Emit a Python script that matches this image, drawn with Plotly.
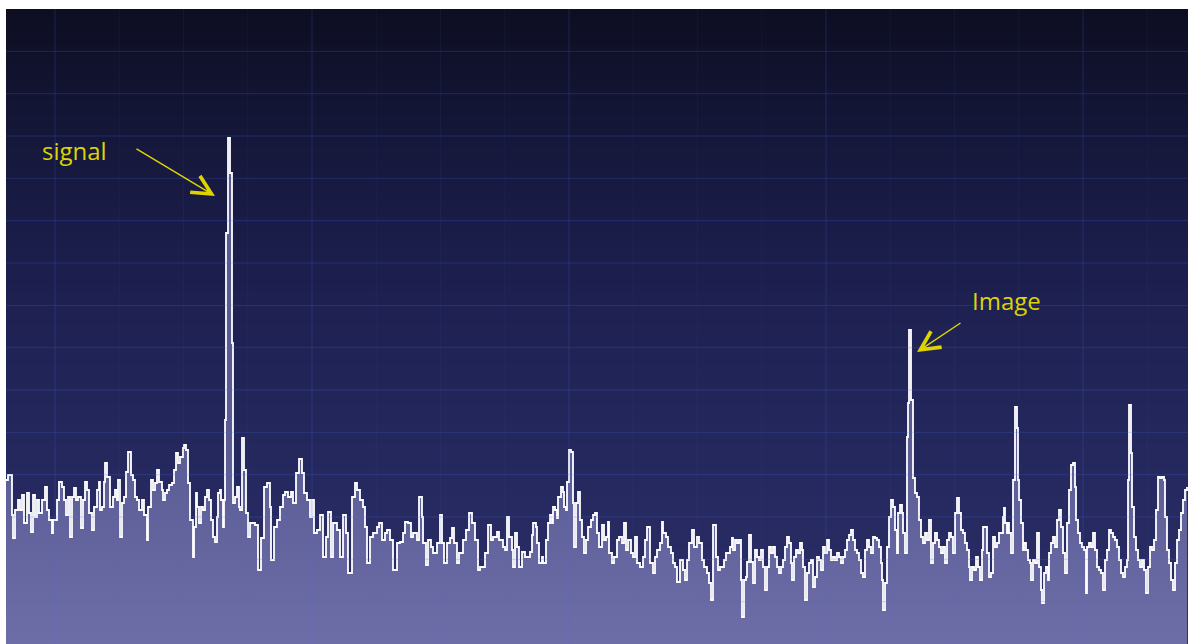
import numpy as np
import plotly.graph_objects as go

# Spectrum sweep: frequency offset (kHz) and level (dBuV)
freq_khz = [
    0, 2, 6, 7, 9, 12, 14, 16, 18, 21, 23, 25, 27, 29, 31, 33, 36, 39, 41, 43,
    46, 47, 51, 53, 56, 58, 60, 62, 64, 66, 68, 70, 72, 75, 77, 79, 81, 83, 86, 88,
    91, 93, 94, 96, 98, 99, 101, 104, 107, 109, 111, 112, 114, 116, 118, 120, 122, 125, 127, 129,
    131, 133, 136, 138, 141, 142, 145, 147, 149, 151, 153, 156, 157, 159, 161, 163, 166, 168, 170, 172,
    174, 177, 178, 180, 182, 184, 187, 188, 190, 191, 193, 195, 197, 199, 201, 203, 205, 207, 209, 211,
    212, 214, 215, 217, 218, 219, 220, 222, 224, 226, 227, 229, 231, 233, 234, 236, 238, 240, 242, 244,
    246, 249, 252, 255, 258, 261, 264, 265, 268, 271, 274, 277, 279, 282, 285, 287, 290, 293, 296, 298,
    301, 304, 306, 308, 311, 314, 317, 320, 322, 325, 327, 331, 334, 337, 340, 342, 346, 349, 351, 354,
    357, 359, 361, 364, 367, 371, 373, 376, 379, 381, 384, 387, 391, 394, 397, 399, 402, 405, 407, 411,
    413, 416, 417, 420, 422, 425, 427, 431, 434, 436, 438, 441, 444, 446, 448, 451, 453, 457, 460, 463,
    466, 469, 472, 474, 479, 482, 485, 487, 491, 493, 497, 499, 501, 503, 506, 507, 509, 511, 513, 516,
    519, 522, 524, 526, 527, 530, 531, 533, 536, 537, 540, 542, 544, 546, 547, 549, 551, 552, 555, 557,
    558, 560, 561, 563, 565, 567, 568, 570, 572, 574, 576, 578, 580, 582, 585, 587, 589, 591, 593, 596,
    598, 600, 602, 603, 606, 608, 611, 613, 616, 618, 620, 622, 625, 627, 629, 631, 634, 637, 639, 641,
    644, 647, 649, 651, 654, 656, 657, 660, 662, 665, 667, 669, 671, 674, 677, 679, 681, 683, 686, 688,
    691, 693, 696, 698, 701, 703, 705, 707, 710, 712, 714, 718, 720, 722, 724, 726, 727, 729, 731, 733,
    735, 736, 738, 740, 741, 743, 745, 747, 749, 751, 753, 755, 757, 759, 761, 763, 765, 767, 769, 771,
    773, 775, 777, 779, 781, 783, 785, 786, 788, 790, 792, 794, 796, 797, 799, 801, 803, 805, 807, 809,
    811, 813, 815, 817, 819, 821, 823, 825, 827, 829, 831, 833, 835, 837, 839, 841, 843, 845, 847, 849,
    851, 853, 855, 857, 859, 861, 863, 865, 867, 869, 871, 873, 875, 876, 877, 879, 881, 883, 885, 887,
    889, 891, 892, 894, 896, 897, 899, 901, 902, 903, 905, 907, 909, 911, 913, 915, 917, 919, 921, 923,
    925, 927, 929, 931, 933, 935, 937, 939, 941, 943, 945, 947, 949, 951, 953, 955, 957, 959, 961, 963,
    964, 966, 968, 970, 972, 974, 976, 977, 979, 981, 983, 985, 987, 989, 991, 993, 995, 997, 998, 999,
    1001, 1002, 1003, 1005, 1007, 1009, 1011, 1012, 1013, 1015, 1017, 1018, 1020, 1022, 1024, 1025, 1027, 1029, 1031, 1033,
    1035, 1036, 1038, 1040, 1042, 1043, 1045, 1047, 1049, 1051, 1053, 1055, 1057, 1059, 1061, 1063, 1065, 1067, 1069, 1070,
    1072, 1074, 1076, 1078, 1080, 1081, 1083, 1085, 1087, 1089, 1091, 1093, 1095, 1097, 1099, 1101, 1103, 1105, 1107, 1109,
    1111, 1113, 1115, 1117, 1119, 1121, 1122, 1123, 1125, 1126, 1128, 1130, 1132, 1134, 1136, 1138, 1140, 1142, 1144, 1146,
    1148, 1150, 1152, 1154, 1156, 1158, 1159, 1161, 1163, 1165, 1167, 1169, 1171, 1173, 1175, 1177, 1179, 1181,
]

level_dbuv = [
    32.8, 33.8, 25.8, 21.2, 26.8, 28.8, 26.8, 29.8, 24.2, 30.2, 26.2, 22.4, 29.8, 25.4, 28.8, 26.2, 28.8, 31.4, 26.8, 24.8,
    22.2, 24.8, 28.8, 32.4, 31.4, 28.8, 25.8, 29.4, 21.4, 29.4, 31.2, 28.8, 29.4, 23.2, 28.8, 32.4, 30.8, 26.2, 22.8, 27.4,
    30.8, 32.4, 26.8, 27.4, 32.4, 36.2, 33.4, 27.4, 29.4, 30.8, 28.8, 32.8, 21.4, 28.2, 29.4, 34.4, 38.4, 33.8, 32.8, 29.4,
    28.8, 26.8, 28.8, 25.8, 20.8, 27.4, 32.8, 30.8, 32.2, 34.8, 32.4, 30.8, 28.8, 30.2, 30.8, 31.8, 32.2, 34.8, 38.2, 36.2,
    37.4, 39.2, 39.8, 38.8, 32.2, 24.8, 17.4, 23.4, 30.2, 27.4, 24.2, 27.4, 26.8, 29.4, 30.8, 28.8, 24.8, 21.4, 20.4, 25.4,
    30.2, 30.8, 28.8, 23.4, 28.8, 44.8, 82.2, 101.2, 94.2, 60.2, 28.2, 29.4, 31.4, 27.4, 26.8, 41.2, 34.8, 26.2, 21.4, 24.2,
    24.2, 23.8, 14.8, 21.2, 31.4, 32.2, 27.4, 16.8, 23.4, 24.8, 27.4, 29.8, 30.4, 29.4, 30.4, 28.2, 34.2, 37.0, 34.2, 30.2,
    28.8, 25.4, 28.8, 22.2, 22.8, 25.8, 17.4, 21.4, 26.4, 17.4, 24.2, 22.8, 17.4, 25.8, 22.2, 14.2, 29.4, 32.2, 30.8, 28.8,
    27.4, 23.4, 16.2, 21.4, 22.2, 23.4, 24.2, 20.8, 22.2, 22.8, 20.8, 14.8, 20.2, 20.4, 22.2, 24.4, 24.2, 21.4, 22.2, 20.8,
    29.4, 25.4, 20.2, 15.8, 20.8, 19.4, 18.2, 20.2, 25.8, 20.2, 16.2, 20.2, 21.2, 23.2, 20.2, 16.2, 18.2, 20.8, 22.8, 26.2,
    24.2, 20.8, 14.8, 15.4, 18.2, 23.8, 20.8, 21.4, 22.4, 20.8, 19.4, 18.8, 25.4, 21.4, 18.8, 15.4, 22.2, 19.4, 15.4, 18.4,
    17.4, 17.4, 18.4, 21.8, 24.2, 23.4, 20.2, 16.2, 17.4, 16.2, 20.8, 24.2, 25.8, 24.2, 27.4, 26.8, 25.2, 29.4, 31.4, 30.4,
    27.4, 26.8, 32.4, 38.8, 38.4, 28.2, 19.4, 28.2, 30.4, 24.8, 21.4, 18.2, 20.8, 23.4, 24.8, 25.8, 26.2, 22.2, 19.4, 23.8,
    20.8, 21.4, 24.4, 18.2, 16.2, 17.4, 20.8, 21.4, 20.2, 24.2, 18.8, 20.8, 18.2, 17.4, 21.4, 16.2, 15.4, 17.4, 20.8, 23.4,
    16.2, 14.2, 17.4, 18.8, 20.2, 24.4, 22.2, 21.4, 19.4, 18.2, 16.2, 15.4, 12.4, 16.8, 14.8, 12.8, 16.8, 20.2, 22.8, 19.4,
    21.4, 20.2, 16.8, 15.4, 14.2, 12.2, 8.8, 23.8, 17.4, 14.8, 15.4, 16.8, 18.2, 18.2, 19.4, 21.2, 18.8, 20.8, 20.2, 20.8,
    12.8, 5.4, 12.8, 13.4, 16.4, 21.8, 16.4, 12.2, 18.8, 17.4, 16.8, 18.8, 15.4, 10.8, 15.4, 19.4, 18.2, 19.4, 17.4, 15.4,
    14.2, 15.4, 16.8, 19.4, 21.4, 20.2, 16.2, 12.8, 17.4, 18.8, 18.2, 20.2, 18.8, 15.4, 8.8, 14.2, 16.2, 16.8, 11.4, 13.4,
    17.4, 16.8, 14.8, 19.4, 18.2, 20.8, 18.8, 16.8, 17.4, 16.8, 18.2, 17.4, 16.2, 17.4, 18.8, 20.8, 21.8, 22.8, 20.8, 18.8,
    18.2, 16.8, 14.2, 13.4, 18.8, 20.8, 19.4, 18.2, 21.4, 21.2, 20.8, 19.4, 16.2, 12.8, 6.8, 12.2, 19.4, 25.4, 28.8, 27.4,
    22.8, 18.2, 26.2, 27.8, 26.2, 22.2, 18.2, 41.4, 48.2, 62.8, 48.8, 33.2, 30.2, 29.4, 24.8, 21.4, 20.2, 22.2, 20.8, 24.8,
    16.2, 20.2, 22.2, 20.8, 19.4, 18.2, 19.4, 16.2, 20.8, 22.2, 21.4, 18.2, 26.2, 29.2, 26.2, 22.8, 22.2, 20.2, 18.8, 15.4,
    12.8, 15.4, 14.8, 17.4, 15.4, 12.8, 18.8, 23.4, 23.4, 18.2, 13.4, 14.2, 21.4, 19.4, 20.2, 22.2, 22.2, 25.4, 27.2, 24.2,
    22.2, 24.2, 22.2, 18.2, 32.8, 47.4, 43.2, 32.8, 28.8, 24.2, 18.8, 20.2, 18.8, 16.8, 16.2, 12.8, 16.8, 16.2, 22.2, 15.4,
    10.8, 8.2, 14.2, 15.4, 12.8, 18.2, 20.2, 21.4, 19.4, 24.8, 26.8, 23.4, 18.2, 14.2, 24.2, 30.8, 35.8, 36.2, 31.4, 24.8,
    22.2, 20.2, 19.4, 18.8, 10.2, 19.4, 20.2, 19.4, 22.2, 18.8, 15.4, 14.8, 14.2, 10.8, 16.8, 18.8, 22.8, 22.2, 21.4, 20.8,
    19.4, 16.8, 14.2, 13.4, 15.4, 16.8, 32.8, 47.8, 38.2, 27.4, 21.4, 18.8, 16.8, 15.4, 16.8, 14.8, 10.2, 15.4, 19.4, 18.8,
    20.8, 26.8, 33.4, 33.2, 33.4, 32.8, 25.4, 18.8, 16.2, 12.8, 10.8, 16.2, 20.8, 22.8, 26.2, 28.8, 30.8, 31.4,
]

# Display span
SPAN_KHZ = 1182
REF_TOP = 127
DIVS_Y = 15
DIV_X = 257
X_GRID_START = 49

fig = go.Figure()

# Screen background: dark-to-indigo vertical gradient
bg_levels = np.linspace(0, REF_TOP, 40)
fig.add_trace(go.Heatmap(
    x=[-50, SPAN_KHZ + 50],
    y=bg_levels,
    z=[[v, v] for v in bg_levels],
    colorscale=[
        [0.0, "#2c2f69"],
        [0.3, "#25285d"],
        [0.55, "#1d2050"],
        [0.8, "#15173a"],
        [1.0, "#0d0e21"],
    ],
    zsmooth="best",
    showscale=False,
    hoverinfo="skip",
))

# Spectrum trace with shaded area underneath
fig.add_trace(go.Scatter(
    x=freq_khz,
    y=level_dbuv,
    mode="lines",
    line=dict(color="#ffffff", width=1.8, shape="hv"),
    fill="tozeroy",
    fillgradient=dict(
        type="vertical",
        start=0,
        stop=45,
        colorscale=[[0.0, "#6d6da8"], [1.0, "#585a91"]],
    ),
    hoverinfo="skip",
))

# Graticule drawn over the trace
shapes = []
for k in range(1, DIVS_Y):
    lv = k * REF_TOP / DIVS_Y
    shapes.append(dict(type="line", xref="x", yref="y", x0=0, x1=SPAN_KHZ, y0=lv, y1=lv,
                       line=dict(color="rgba(70,110,235,0.24)", width=1), layer="above"))
minor_step = DIV_X / 4
f = X_GRID_START
k = 0
while f < SPAN_KHZ:
    major = (k % 4 == 0)
    shapes.append(dict(type="line", xref="x", yref="y", x0=f, x1=f, y0=0, y1=REF_TOP,
                       line=dict(color="rgba(70,110,235,0.22)" if major else "rgba(70,110,235,0.07)",
                                 width=1), layer="above"))
    k += 1
    f = X_GRID_START + k * minor_step

ann_color = "#ddd400"
annotations = [
    dict(x=68, y=98.8, xref="x", yref="y", text="signal", showarrow=False,
         font=dict(family="Open Sans", size=24, color=ann_color)),
    dict(x=209, y=89.6, xref="x", yref="y", text="", showarrow=True,
         ax=-80, ay=-48, arrowcolor=ann_color, arrowwidth=1.5, arrowhead=5, arrowsize=2.5),
    dict(x=1000, y=68.8, xref="x", yref="y", text="Image", showarrow=False,
         font=dict(family="Open Sans", size=24, color=ann_color)),
    dict(x=911, y=58.4, xref="x", yref="y", text="", showarrow=True,
         ax=45, ay=-30, arrowcolor=ann_color, arrowwidth=1.5, arrowhead=5, arrowsize=2.5),
]

fig.update_layout(
    width=1188,
    height=644,
    margin=dict(l=6, r=0, t=9, b=0),
    paper_bgcolor="white",
    plot_bgcolor="#1a1c45",
    showlegend=False,
    shapes=shapes,
    annotations=annotations,
    xaxis=dict(range=[0, SPAN_KHZ], showgrid=False, zeroline=False, showticklabels=False,
               ticks="", showline=False, fixedrange=True),
    yaxis=dict(range=[0, REF_TOP], showgrid=False, zeroline=False, showticklabels=False,
               ticks="", showline=False, fixedrange=True),
)

fig.write_html("out.html")
